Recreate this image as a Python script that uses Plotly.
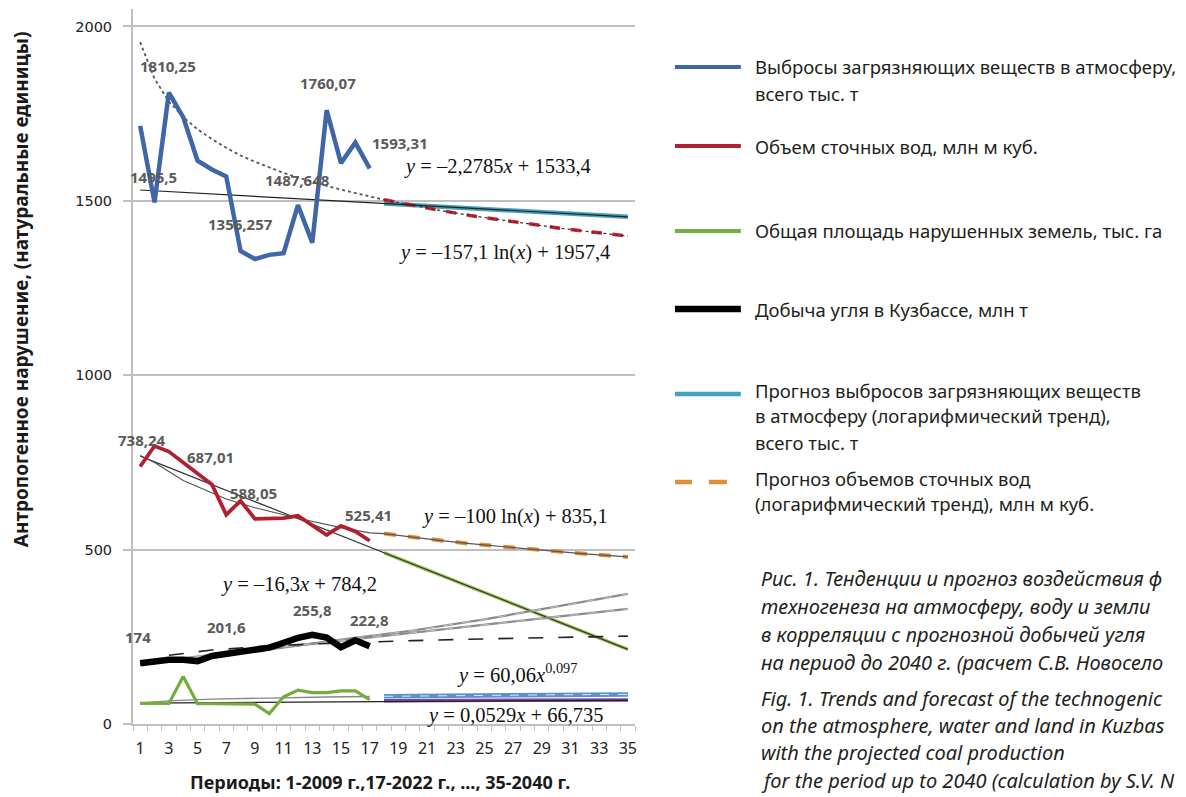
import plotly.graph_objects as go

# ---------------- data ----------------
hist = list(range(1, 18))
tick_vals = list(range(1, 36, 2))
tick_text = [str(v) for v in tick_vals]

emissions = [1715, 1495.5, 1810.25, 1740, 1615, 1590, 1570, 1356.257, 1333, 1345,
             1350, 1487.648, 1380, 1760.07, 1608, 1667, 1593.31]
wastewater = [738.24, 797, 781, 750, 719, 687.01, 600, 640, 588.05, 590,
              590, 597, 568, 542, 568, 552, 525.41]
land = [59, 59, 59, 136, 58, 58, 57, 57, 57, 30, 78, 97, 90, 90, 95, 95, 70]
coal = [174, 180, 184, 184, 180, 195, 201.6, 208, 214, 219, 233, 247, 255.8,
        248, 220, 240, 222.8]

# trend / forecast lines
em_lin_x, em_lin_y = [1, 35], [1531, 1454]
em_log_x = list(range(1, 19))
em_log_y = [1955, 1850, 1785, 1740, 1705, 1677, 1652, 1630, 1612, 1595, 1580,
            1567, 1554, 1543, 1532, 1522, 1512, 1503]
em_fc_x, em_fc_y = [18, 35], [1492, 1454]
em_fclog_x = [18, 20, 22, 24, 26, 28, 30, 32, 35]
em_fclog_y = [1503, 1487, 1472, 1458, 1446, 1434, 1423, 1413, 1399]

ww_lin_x, ww_lin_y = [1, 35], [768, 214]
ww_linfc_x, ww_linfc_y = [18, 35], [491, 214]
ww_log_x = [1, 2, 4, 7, 9, 12, 15, 17, 18, 20, 22, 24, 26, 28, 30, 32, 35]
ww_log_y = [770, 750, 698, 645, 620, 590, 563, 548, 546, 535, 526, 517, 509,
            502, 495, 488, 479]
ww_fc_x = [18, 20, 22, 24, 26, 28, 30, 32, 35]
ww_fc_y = [546, 535, 526, 517, 509, 502, 495, 488, 479]

coal_a_x = [1, 5, 10, 15, 20, 25, 30, 35]
coal_a_y = [172, 190, 214, 242, 268, 300, 336, 373]
coal_b_x, coal_b_y = [1, 35], [175, 330]
coal_c_x = [1, 3, 6, 10, 14, 17, 20, 25, 30, 35]
coal_c_y = [172, 197, 212, 224, 231, 236, 239, 244, 248, 252]

land_lin_x, land_lin_y = [1, 35], [60, 68]
land_pow_x = [1, 3, 6, 10, 14, 17]
land_pow_y = [60, 66.4, 71.3, 75, 77.5, 79]
land_fcpow_x = [18, 22, 26, 30, 35]
land_fcpow_y = [79.4, 81.2, 82.7, 83.8, 84.8]
land_fclin_x, land_fclin_y = [18, 35], [67, 68.5]

# data labels: text, category position, value position
lbl_text = ["1810,25", "1760,07", "1593,31", "1495,5", "1487,648", "1356,257",
            "738,24", "687,01", "588,05", "525,41",
            "174", "201,6", "255,8", "222,8"]
lbl_x = [2.95, 14.1, 19.1, 1.9, 12.0, 7.97, 1.14, 5.9, 8.9, 16.9, 0.86, 7.0, 13.0, 17.0]
lbl_y = [1888, 1839, 1667, 1569, 1561, 1434, 815, 766, 663, 600, 250, 278, 327, 298]

eq_text = ["<i>y</i> = –2,2785<i>x</i> + 1533,4",
           "<i>y</i> = –157,1 ln(<i>x</i>) + 1957,4",
           "<i>y</i> = –100 ln(<i>x</i>) + 835,1",
           "<i>y</i> = –16,3<i>x</i> + 784,2",
           "<i>y</i> = 60,06<i>x</i><sup>0,097</sup>",
           "<i>y</i> = 0,0529<i>x</i> + 66,735"]
eq_x = [25.9, 26.4, 27.1, 12.1, 27.3, 27.2]
eq_y = [1598, 1351, 594, 399, 146, 23]

legend_lines = [
    ["Выбросы загрязняющих веществ в атмосферу,", "всего тыс. т"],
    ["Объем сточных вод, млн м куб."],
    ["Общая площадь нарушенных земель, тыс. га"],
    ["Добыча угля в Кузбассе, млн т"],
    ["Прогноз выбросов загрязняющих веществ", "в атмосферу (логарифмический тренд),",
     "всего тыс. т"],
    ["Прогноз объемов сточных вод", "(логарифмический тренд), млн м куб."],
]
# caption as visible in the reference (it runs off the right edge there)
caption_lines = [
    "Рис. 1. Тенденции и прогноз воздействия ф",
    "техногенеза на атмосферу, воду и земли",
    "в корреляции с прогнозной добычей угля",
    "на период до 2040 г. (расчет С.В. Новосело",
    "Fig. 1. Trends and forecast of the technogenic",
    "on the atmosphere, water and land in Kuzbas",
    "with the projected coal production",
    "for the period up to 2040 (calculation by S.V. N",
]
x_title = "Периоды: 1-2009 г.,17-2022 г., ..., 35-2040 г."
y_title = "Антропогенное нарушение, (натуральные единицы)"

# ---------------- styling ----------------
W, H = 1186, 797
L, R_PIX, T, B = 133, 636, 9, 724
PW = W - L

def pxx(x):
    return (x - L) / PW

def pxy(y):
    return (B - y) / (B - T)

BLUE = "#3f66a8"
RED = "#b0202e"
GREEN = "#74ad3c"
CYAN = "#45a3c0"
ORANGE = "#e08d36"
GREY = "#bfbfbf"

fig = go.Figure()

def line(x, y, color, width, dash="solid"):
    fig.add_trace(go.Scatter(x=x, y=y, mode="lines", showlegend=False,
                             hoverinfo="skip",
                             line=dict(color=color, width=width, dash=dash)))

# forecast / trend lines (underneath)
line(em_fc_x, em_fc_y, CYAN, 4.5)
line(em_fclog_x, em_fclog_y, "#c8202e", 3.5, "dash")
line(em_fclog_x, em_fclog_y, "#333333", 1.2, "dot")
line(em_log_x, em_log_y, "#555555", 1.8, "dot")
line(em_lin_x, em_lin_y, "#222222", 1.2)

line(ww_linfc_x, ww_linfc_y, "#9ccc5a", 3.5)
line(ww_lin_x, ww_lin_y, "#333333", 1.2)
line(ww_fc_x, ww_fc_y, ORANGE, 4, "dash")
line(ww_log_x, ww_log_y, "#555555", 1.2)

line(coal_a_x, coal_a_y, "#8a8a8a", 2.2)
line(coal_a_x, coal_a_y, "#e6e6e6", 0.6, "dash")
line(coal_b_x, coal_b_y, "#8a8a8a", 2.2)
line(coal_b_x, coal_b_y, "#e6e6e6", 0.6, "dash")
line(coal_c_x, coal_c_y, "#222222", 1.6, "longdash")

line(land_fcpow_x, land_fcpow_y, "#5b8fd0", 4.5)
line(land_fcpow_x, land_fcpow_y, "#dfe9f6", 1, "dash")
line(land_fclin_x, land_fclin_y, "#7b4a9c", 3.5)
line(land_lin_x, land_lin_y, "#222222", 1.2)
line(land_pow_x, land_pow_y, "#888888", 1.4)

# data series
line(hist, emissions, BLUE, 4.5)
line(hist, wastewater, RED, 3.8)
line(hist, land, GREEN, 3.2)
line(hist, coal, "#000000", 6.5)

annotations = []
for t, x, y in zip(lbl_text, lbl_x, lbl_y):
    annotations.append(dict(x=x, y=y, xref="x", yref="y", text=t, showarrow=False,
                            xanchor="center", yanchor="middle",
                            font=dict(family="Noto Sans", size=15, color="#5a5a5a",
                                      weight="bold")))
for t, x, y in zip(eq_text, eq_x, eq_y):
    annotations.append(dict(x=x, y=y, xref="x", yref="y", text=t, showarrow=False,
                            xanchor="center", yanchor="middle",
                            font=dict(family="Liberation Serif", size=20.5, color="#111111")))

# axis titles
annotations.append(dict(x=pxx(380), y=pxy(782), xref="paper", yref="paper", text=x_title,
                        showarrow=False, xanchor="center", yanchor="middle",
                        font=dict(family="Noto Sans", size=18, color="#1a1a1a",
                                  weight="bold")))
annotations.append(dict(x=pxx(21), y=pxy(289), xref="paper", yref="paper", text=y_title,
                        textangle=-90, showarrow=False, xanchor="center", yanchor="middle",
                        font=dict(family="Noto Sans", size=19, color="#1a1a1a",
                                  weight="bold")))

# legend (drawn manually)
shapes = []
leg_sym_y = [67, 146, 231, 309, 394, 482]
leg_txt_y = [[67, 93], [146], [231], [309], [390, 415, 442], [478, 503]]
leg_style = [(BLUE, 4, None), (RED, 4, None), (GREEN, 4, None), ("#000000", 6.5, None),
             (CYAN, 4.5, None), (ORANGE, 4.5, "dash")]
for (col, wd, ds), sy in zip(leg_style, leg_sym_y):
    if ds is None:
        shapes.append(dict(type="line", xref="paper", yref="paper",
                           x0=pxx(676), x1=pxx(742), y0=pxy(sy), y1=pxy(sy),
                           line=dict(color=col, width=wd)))
    else:
        for a, b in [(676, 693), (710, 728)]:
            shapes.append(dict(type="line", xref="paper", yref="paper",
                               x0=pxx(a), x1=pxx(b), y0=pxy(sy), y1=pxy(sy),
                               line=dict(color=col, width=wd)))
for lines, ys in zip(legend_lines, leg_txt_y):
    for t, yy in zip(lines, ys):
        annotations.append(dict(x=pxx(754), y=pxy(yy), xref="paper", yref="paper",
                                text=t, showarrow=False, xanchor="left", yanchor="middle",
                                font=dict(family="Noto Sans", size=18.5, color="#231f20")))

cap_y = [578, 606, 634, 662, 698, 725, 752, 780]
for t, yy in zip(caption_lines, cap_y):
    annotations.append(dict(x=pxx(760), y=pxy(yy), xref="paper", yref="paper",
                            text="<i>" + t + "</i>", showarrow=False, xanchor="left",
                            yanchor="middle",
                            font=dict(family="Noto Sans", size=20, color="#231f20")))

fig.update_layout(
    width=W, height=H,
    margin=dict(l=L, r=0, t=T, b=H - B),
    paper_bgcolor="white", plot_bgcolor="white",
    showlegend=False,
    xaxis=dict(domain=[0, (R_PIX - L) / PW], range=[0.5, 35.5],
               tickvals=tick_vals, ticktext=tick_text, ticks="",
               showgrid=False, zeroline=False, showline=True,
               linecolor=GREY, linewidth=1.5,
               ticklabelstandoff=9,
               tickfont=dict(family="Noto Sans", size=16, color="#222222"),
               minor=dict(ticks="outside", tick0=0.5, dtick=1, ticklen=5,
                          tickcolor=GREY, tickwidth=1, showgrid=False)),
    yaxis=dict(range=[0, 2050], tickvals=[0, 500, 1000, 1500, 2000],
               showgrid=True, gridcolor=GREY, gridwidth=1.5, zeroline=False,
               showline=True, linecolor=GREY, linewidth=2,
               ticks="outside", ticklen=8, tickcolor=GREY, tickwidth=1.5,
               ticklabelstandoff=8,
               tickfont=dict(family="DejaVu Sans", size=14.5, color="#222222")),
    annotations=annotations,
    shapes=shapes,
)

fig.write_html("out.html", config={"displayModeBar": False},
               post_script="document.body.style.margin='0px';")
